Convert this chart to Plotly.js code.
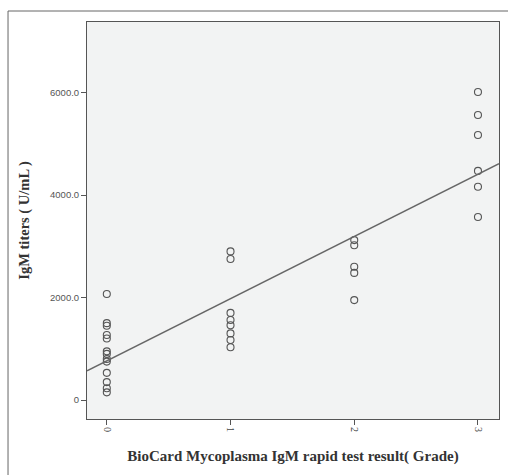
<!DOCTYPE html>
<html><head><meta charset="utf-8">
<script src="https://cdn.plot.ly/plotly-3.0.1.min.js"></script>
<style>html,body{margin:0;padding:0;background:#fff;}#chart{width:508px;height:475px;}</style>
</head><body><div id="chart"></div>
<script>
// Data
const grade0 = [2070, 1500, 1450, 1270, 1200, 950, 900, 800, 750, 530, 350, 230, 150];
const grade1 = [2900, 2750, 1700, 1560, 1460, 1300, 1170, 1030];
const grade2 = [3120, 3020, 2600, 2480, 1950];
const grade3 = [6010, 5560, 5170, 4470, 4160, 3570];
const grades = [0, 1, 2, 3];
const yTickVals = [0, 2000, 4000, 6000];
const yTickText = ["0", "2000.0", "4000.0", "6000.0"];
const xTickText = ["0", "1", "2", "3"];

const groups = [grade0, grade1, grade2, grade3];
const xs = [], ys = [];
groups.forEach((g, i) => g.forEach(v => { xs.push(grades[i]); ys.push(v); }));

// least-squares fit line
const n = xs.length;
const mx = xs.reduce((a, b) => a + b, 0) / n;
const my = ys.reduce((a, b) => a + b, 0) / n;
let sxy = 0, sxx = 0;
for (let i = 0; i < n; i++) { sxy += (xs[i] - mx) * (ys[i] - my); sxx += (xs[i] - mx) ** 2; }
const slope = sxy / sxx, icpt = my - slope * mx;
const xr = [-0.16, 3.17];

const traces = [
  { x: xs, y: ys, type: 'scatter', mode: 'markers',
    marker: { symbol: 'circle-open', size: 7, color: '#555', line: { width: 1.1, color: '#555' } },
    hoverinfo: 'skip' },
  { x: xr, y: xr.map(x => icpt + slope * x), type: 'scatter', mode: 'lines',
    line: { color: '#666', width: 1.4 }, hoverinfo: 'skip' }
];

const layout = {
  width: 508, height: 475,
  margin: { l: 87, r: 9, t: 22, b: 56 },
  paper_bgcolor: '#fff', plot_bgcolor: '#f2f3f3',
  showlegend: false,
  xaxis: {
    range: xr, tickvals: grades, ticktext: xTickText, tickangle: 90,
    ticks: 'outside', ticklen: 5, tickcolor: '#555', showgrid: false, zeroline: false,
    showline: true, mirror: true, linecolor: '#555', linewidth: 1,
    tickfont: { family: 'Liberation Serif, Times New Roman', size: 10, color: '#444' },
    title: { text: 'BioCard Mycoplasma IgM rapid test result( Grade)', standoff: 19,
      font: { family: 'Liberation Serif, Times New Roman', size: 15, color: '#333', weight: 'bold' } }
  },
  yaxis: {
    range: [-370, 7375], tickvals: yTickVals, ticktext: yTickText,
    ticks: 'outside', ticklen: 5, tickcolor: '#555', showgrid: false, zeroline: false,
    showline: true, mirror: true, linecolor: '#555', linewidth: 1,
    tickfont: { family: 'Arial, Liberation Sans', size: 9.5, color: '#555' },
    title: { text: 'IgM titers ( U/mL )', standoff: 16,
      font: { family: 'Liberation Serif, Times New Roman', size: 14.5, color: '#333', weight: 'bold' } }
  },
  shapes: [
    { type: 'line', xref: 'paper', yref: 'paper', x0: -0.1917, x1: -0.1917, y0: 1.0277, y1: -0.15, line: { color: '#666', width: 1 } },
    { type: 'line', xref: 'paper', yref: 'paper', x0: -0.1917, x1: 1.03, y0: 1.0277, y1: 1.0277, line: { color: '#666', width: 1 } }
  ]
};
Plotly.newPlot('chart', traces, layout, { staticPlot: true, displayModeBar: false });
</script></body></html>
